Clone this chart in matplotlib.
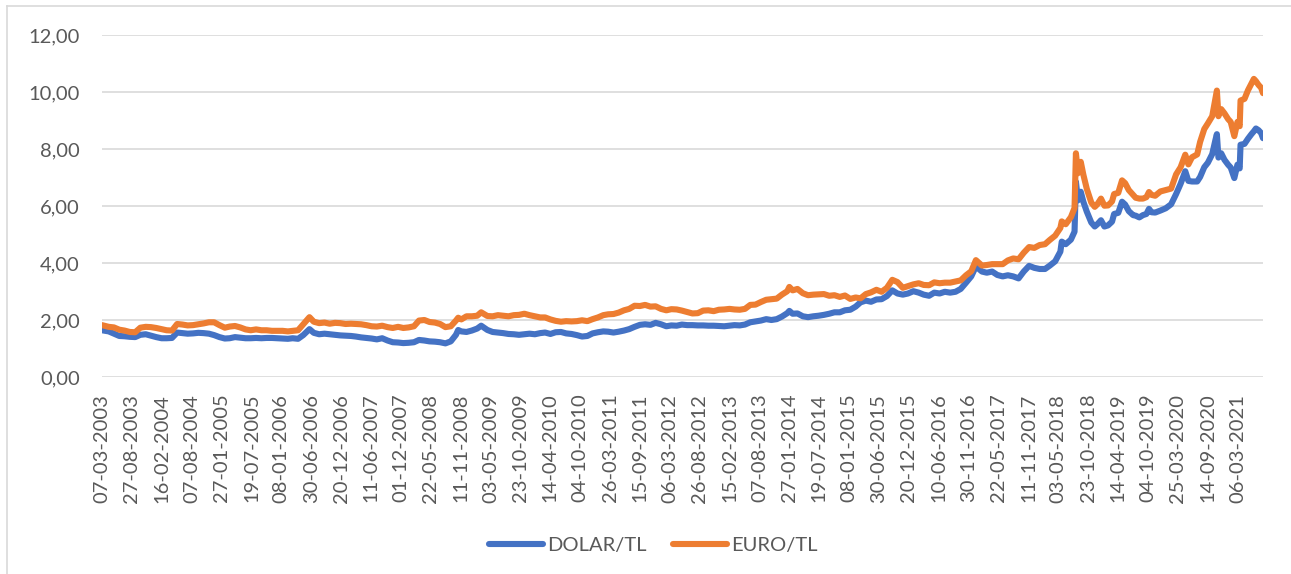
import matplotlib
matplotlib.use("Agg")
import matplotlib.pyplot as plt
from matplotlib.ticker import FuncFormatter
import pandas as pd

# values (roughly monthly, extra points at spikes)
dates = [
    "2003-03-07", "2003-04-15", "2003-05-15", "2003-06-15", "2003-07-15", "2003-08-15",
    "2003-09-15", "2003-10-15", "2003-11-15", "2003-12-15", "2004-01-15", "2004-02-15",
    "2004-03-15", "2004-04-15", "2004-05-15", "2004-06-15", "2004-07-15", "2004-08-15",
    "2004-09-15", "2004-10-15", "2004-11-15", "2004-12-15", "2005-01-15", "2005-02-15",
    "2005-03-15", "2005-04-15", "2005-05-15", "2005-06-15", "2005-07-15", "2005-08-15",
    "2005-09-15", "2005-10-15", "2005-11-15", "2005-12-15", "2006-01-15", "2006-02-15",
    "2006-03-15", "2006-04-15", "2006-05-15", "2006-06-20", "2006-07-15", "2006-08-15",
    "2006-09-15", "2006-10-15", "2006-11-15", "2006-12-15", "2007-01-15", "2007-02-15",
    "2007-03-15", "2007-04-15", "2007-05-15", "2007-06-15", "2007-07-15", "2007-08-15",
    "2007-09-15", "2007-10-15", "2007-11-15", "2007-12-15", "2008-01-15", "2008-02-15",
    "2008-03-15", "2008-04-15", "2008-05-15", "2008-06-15", "2008-07-15", "2008-08-15",
    "2008-09-15", "2008-10-15", "2008-10-28", "2008-11-15", "2008-12-15", "2009-01-15",
    "2009-02-15", "2009-03-10", "2009-04-15", "2009-05-15", "2009-06-15", "2009-07-15",
    "2009-08-15", "2009-09-15", "2009-10-15", "2009-11-15", "2009-12-15", "2010-01-15",
    "2010-02-15", "2010-03-15", "2010-04-15", "2010-05-15", "2010-06-15", "2010-07-15",
    "2010-08-15", "2010-09-15", "2010-10-15", "2010-11-15", "2010-12-15", "2011-01-15",
    "2011-02-15", "2011-03-15", "2011-04-15", "2011-05-15", "2011-06-15", "2011-07-15",
    "2011-08-15", "2011-09-15", "2011-10-15", "2011-11-15", "2011-12-15", "2012-01-15",
    "2012-02-15", "2012-03-15", "2012-04-15", "2012-05-15", "2012-06-15", "2012-07-15",
    "2012-08-15", "2012-09-15", "2012-10-15", "2012-11-15", "2012-12-15", "2013-01-15",
    "2013-02-15", "2013-03-15", "2013-04-15", "2013-05-15", "2013-06-15", "2013-07-15",
    "2013-08-15", "2013-09-15", "2013-10-15", "2013-11-15", "2013-12-15", "2014-01-15",
    "2014-01-27", "2014-02-15", "2014-03-15", "2014-04-15", "2014-05-15", "2014-06-15",
    "2014-07-15", "2014-08-15", "2014-09-15", "2014-10-15", "2014-11-15", "2014-12-15",
    "2015-01-15", "2015-02-15", "2015-03-15", "2015-04-15", "2015-05-15", "2015-06-15",
    "2015-07-15", "2015-08-15", "2015-09-15", "2015-10-15", "2015-11-15", "2015-12-15",
    "2016-01-15", "2016-02-15", "2016-03-15", "2016-04-15", "2016-05-15", "2016-06-15",
    "2016-07-15", "2016-08-15", "2016-09-15", "2016-10-15", "2016-11-15", "2016-12-15",
    "2017-01-11", "2017-02-15", "2017-03-15", "2017-04-15", "2017-05-15", "2017-06-15",
    "2017-07-15", "2017-08-15", "2017-09-15", "2017-10-15", "2017-11-15", "2017-12-15",
    "2018-01-15", "2018-02-15", "2018-03-15", "2018-04-15", "2018-05-15", "2018-05-23",
    "2018-06-15", "2018-07-15", "2018-08-05", "2018-08-13", "2018-08-25", "2018-09-10",
    "2018-09-25", "2018-10-15", "2018-11-10", "2018-11-30", "2018-12-15", "2019-01-05",
    "2019-01-25", "2019-02-15", "2019-03-10", "2019-03-22", "2019-04-15", "2019-05-07",
    "2019-05-25", "2019-06-15", "2019-07-10", "2019-07-25", "2019-08-15", "2019-09-05",
    "2019-09-25", "2019-10-10", "2019-10-25", "2019-11-15", "2019-12-15", "2020-01-15",
    "2020-02-15", "2020-03-15", "2020-04-10", "2020-05-07", "2020-05-25", "2020-06-15",
    "2020-07-15", "2020-08-01", "2020-08-25", "2020-09-15", "2020-10-10", "2020-10-28",
    "2020-11-06", "2020-11-15", "2020-12-01", "2020-12-20", "2021-01-10", "2021-01-25",
    "2021-02-15", "2021-03-05", "2021-03-18", "2021-03-23", "2021-04-15", "2021-05-05",
    "2021-05-25", "2021-06-08", "2021-06-20", "2021-07-05", "2021-07-20", "2021-07-31",
]

dolar_tl = [
    1.64, 1.60, 1.52, 1.44, 1.43, 1.41,
    1.40, 1.48, 1.50, 1.45, 1.40, 1.36,
    1.36, 1.37, 1.56, 1.54, 1.52, 1.53,
    1.55, 1.54, 1.52, 1.47, 1.40, 1.35,
    1.36, 1.40, 1.38, 1.36, 1.36, 1.37,
    1.36, 1.37, 1.37, 1.36, 1.35, 1.34,
    1.36, 1.34, 1.47, 1.68, 1.55, 1.50,
    1.52, 1.50, 1.48, 1.46, 1.45, 1.44,
    1.42, 1.39, 1.37, 1.35, 1.32, 1.36,
    1.28, 1.22, 1.21, 1.19, 1.20, 1.22,
    1.30, 1.28, 1.25, 1.24, 1.22, 1.18,
    1.25, 1.48, 1.65, 1.60, 1.58, 1.63,
    1.70, 1.80, 1.65, 1.58, 1.56, 1.54,
    1.51, 1.50, 1.48, 1.50, 1.52, 1.50,
    1.54, 1.56, 1.51, 1.57, 1.58, 1.53,
    1.51, 1.47, 1.42, 1.44, 1.53, 1.57,
    1.60, 1.59, 1.56, 1.59, 1.63, 1.68,
    1.76, 1.83, 1.85, 1.83, 1.90, 1.85,
    1.78, 1.81, 1.80, 1.84, 1.82, 1.82,
    1.81, 1.81, 1.80, 1.80, 1.79, 1.78,
    1.80, 1.82, 1.81, 1.84, 1.92, 1.95,
    1.98, 2.03, 2.00, 2.03, 2.12, 2.24,
    2.32, 2.22, 2.23, 2.13, 2.10, 2.13,
    2.15, 2.18, 2.22, 2.27, 2.27, 2.34,
    2.36, 2.47, 2.62, 2.68, 2.64, 2.72,
    2.73, 2.84, 3.04, 2.93, 2.89, 2.93,
    3.01, 2.96, 2.89, 2.85, 2.96, 2.93,
    2.99, 2.96, 2.99, 3.09, 3.31, 3.53,
    3.88, 3.70, 3.66, 3.70, 3.58, 3.53,
    3.57, 3.53, 3.46, 3.70, 3.90, 3.83,
    3.79, 3.79, 3.91, 4.06, 4.40, 4.75,
    4.66, 4.82, 5.10, 6.85, 6.20, 6.50,
    6.15, 5.80, 5.42, 5.28, 5.36, 5.50,
    5.28, 5.32, 5.45, 5.72, 5.76, 6.15,
    6.05, 5.82, 5.68, 5.66, 5.60, 5.68,
    5.72, 5.90, 5.78, 5.77, 5.84, 5.92,
    6.06, 6.42, 6.78, 7.22, 6.88, 6.86,
    6.86, 7.02, 7.36, 7.52, 7.82, 8.30,
    8.52, 7.70, 7.85, 7.62, 7.45, 7.35,
    6.98, 7.45, 7.32, 8.15, 8.18, 8.36,
    8.52, 8.62, 8.72, 8.66, 8.56, 8.38,
]

euro_tl = [
    1.82, 1.76, 1.74, 1.66, 1.63, 1.58,
    1.57, 1.73, 1.76, 1.75, 1.72, 1.68,
    1.64, 1.63, 1.86, 1.84, 1.81, 1.82,
    1.85, 1.88, 1.92, 1.92, 1.82, 1.73,
    1.77, 1.79, 1.74, 1.67, 1.64, 1.67,
    1.64, 1.64, 1.62, 1.62, 1.62, 1.60,
    1.62, 1.64, 1.85, 2.10, 1.94, 1.89,
    1.91, 1.87, 1.90, 1.89, 1.86, 1.87,
    1.86, 1.85, 1.82, 1.78, 1.77, 1.80,
    1.75, 1.72, 1.76, 1.72, 1.74, 1.78,
    1.98, 2.00, 1.93, 1.91, 1.86, 1.75,
    1.78, 1.98, 2.08, 2.02, 2.13, 2.13,
    2.15, 2.27, 2.14, 2.13, 2.17, 2.15,
    2.13, 2.17, 2.18, 2.22, 2.17, 2.13,
    2.09, 2.09, 2.02, 1.97, 1.94, 1.96,
    1.95, 1.96, 1.99, 1.96, 2.03, 2.09,
    2.17, 2.20, 2.21, 2.26, 2.34, 2.39,
    2.50, 2.49, 2.53, 2.47, 2.48, 2.39,
    2.34, 2.38, 2.37, 2.33, 2.28, 2.23,
    2.24, 2.33, 2.34, 2.31, 2.36, 2.37,
    2.39, 2.37, 2.36, 2.39, 2.53, 2.54,
    2.63, 2.71, 2.73, 2.75, 2.89, 3.01,
    3.16, 3.04, 3.09, 2.94, 2.87, 2.89,
    2.90, 2.91, 2.85, 2.87, 2.81, 2.86,
    2.74, 2.79, 2.76, 2.91, 2.97, 3.06,
    2.99, 3.13, 3.41, 3.33, 3.13, 3.19,
    3.25, 3.29, 3.23, 3.22, 3.32, 3.29,
    3.31, 3.31, 3.35, 3.39, 3.57, 3.71,
    4.10, 3.91, 3.93, 3.96, 3.96, 3.96,
    4.09, 4.16, 4.13, 4.36, 4.56, 4.53,
    4.63, 4.66, 4.81, 4.96, 5.23, 5.46,
    5.36, 5.61, 5.93, 7.85, 7.15, 7.55,
    7.10, 6.60, 6.12, 5.97, 6.06, 6.26,
    6.01, 6.02, 6.16, 6.42, 6.46, 6.90,
    6.80, 6.56, 6.39, 6.29, 6.26, 6.26,
    6.31, 6.49, 6.39, 6.36, 6.51, 6.56,
    6.61, 7.11, 7.36, 7.80, 7.46, 7.71,
    7.81, 8.25, 8.70, 8.90, 9.15, 9.75,
    10.05, 9.15, 9.40, 9.25, 9.05, 8.95,
    8.45, 8.95, 8.80, 9.70, 9.76, 10.06,
    10.30, 10.46, 10.38, 10.25, 10.15, 9.96,
]

tick_dates = [
    "2003-03-07", "2003-08-27", "2004-02-16", "2004-08-07", "2005-01-27", "2005-07-19",
    "2006-01-08", "2006-06-30", "2006-12-20", "2007-06-11", "2007-12-01", "2008-05-22",
    "2008-11-11", "2009-05-03", "2009-10-23", "2010-04-14", "2010-10-04", "2011-03-26",
    "2011-09-15", "2012-03-06", "2012-08-26", "2013-02-15", "2013-08-07", "2014-01-27",
    "2014-07-19", "2015-01-08", "2015-06-30", "2015-12-20", "2016-06-10", "2016-11-30",
    "2017-05-22", "2017-11-11", "2018-05-03", "2018-10-23", "2019-04-14", "2019-10-04",
    "2020-03-25", "2020-09-14", "2021-03-06",
]

x = pd.to_datetime(dates)
ticks = pd.to_datetime(tick_dates)

plt.rcParams['font.family'] = ['Lato', 'DejaVu Sans']

fig = plt.figure(figsize=(12.91, 5.74), dpi=100)
ax = fig.add_axes([102 / 1291, 1 - 377 / 574, (1263 - 102) / 1291, (377 - 35) / 574])

ax.plot(x, dolar_tl, color='#4472c4', lw=4.4, label='DOLAR/TL',
        solid_capstyle='round', solid_joinstyle='round')
ax.plot(x, euro_tl, color='#ed7d31', lw=4.4, label='EURO/TL',
        solid_capstyle='round', solid_joinstyle='round')

ax.set_ylim(0, 12)
ax.set_yticks(range(0, 13, 2))
ax.yaxis.set_major_formatter(FuncFormatter(lambda v, p: f"{v:.2f}".replace('.', ',')))
ax.set_xlim(pd.Timestamp("2003-03-07"), pd.Timestamp("2021-07-31"))
ax.set_xticks(ticks)
ax.set_xticklabels([d.strftime('%d-%m-%Y') for d in ticks], rotation=90)

ax.grid(axis='y', color='#d9d9d9', lw=1.2)
ax.set_axisbelow(True)
for s in ax.spines.values():
    s.set_visible(False)
ax.tick_params(axis='both', length=0, labelsize=14.5, labelcolor='#595959')
ax.tick_params(axis='y', pad=16)
ax.tick_params(axis='x', pad=12)

fig.legend(loc='center', bbox_to_anchor=(653 / 1291, 1 - 545 / 574), ncol=2, frameon=False,
           fontsize=14.5, labelcolor='#595959', handlelength=2.7, handletextpad=0.2,
           columnspacing=1.3)

# chart area border (only left/top edges visible in reference)
fig.add_artist(plt.Line2D([7 / 1291, 7 / 1291], [0, 1 - 6 / 574], color='#d9d9d9', lw=1.2))
fig.add_artist(plt.Line2D([7 / 1291, 1], [1 - 6 / 574, 1 - 6 / 574], color='#d9d9d9', lw=1.2))

fig.savefig('out.png', dpi=100)
